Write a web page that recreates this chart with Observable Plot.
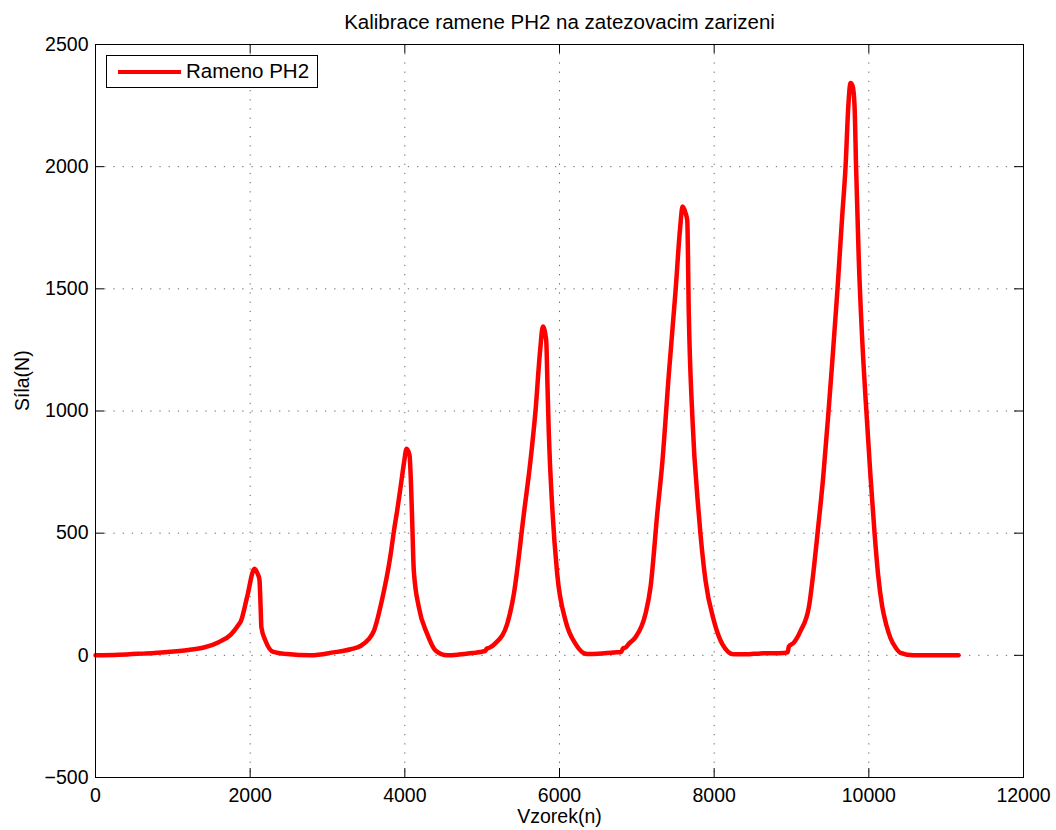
<!DOCTYPE html>
<html>
<head>
<meta charset="utf-8">
<script src="https://cdn.jsdelivr.net/npm/d3@7"></script>
<script src="https://cdn.jsdelivr.net/npm/@observablehq/plot@0.6"></script>
<style>
  html, body { margin: 0; padding: 0; background: #fff; }
  #wrap { position: relative; width: 1056px; height: 830px; font-family: "Liberation Sans", Arial, sans-serif; }
  #legend { position: absolute; left: 106px; top: 55px; width: 212px; height: 33px; border: 1px solid #000; background: #fff; box-sizing: border-box; }
  #legend .sw { position: absolute; left: 11px; top: 13.5px; width: 63px; height: 4.5px; background: #ff0000; }
  #legend .lb { position: absolute; left: 79px; top: 4px; font-size: 20.5px; line-height: 22px; color: #000; white-space: nowrap; }
</style>
</head>
<body>
<div id="wrap">
  <div id="chart"></div>
  <div id="legend"><div class="sw"></div><div class="lb" id="legendLabel"></div></div>
</div>
<script>
const titleText = "Kalibrace ramene PH2 na zatezovacim zarizeni";
const xLabel = "Vzorek(n)";
const yLabel = "Síla(N)";
const seriesName = "Rameno PH2";

const xTicks = [0, 2000, 4000, 6000, 8000, 10000, 12000];
const yTicks = [-500, 0, 500, 1000, 1500, 2000, 2500];

const sampleN = [
  0, 300, 600, 900, 1200, 1400, 1600, 1750, 1850, 1880, 1960, 2056, 2095, 2120, 2135, 2145, 2198, 2300, 2480, 2780,
  3078, 3300, 3427, 3530, 3600, 3700, 3815, 3860, 3900, 3950, 3990, 4022, 4060, 4080, 4095, 4116, 4181, 4289, 4397, 4548, 4700, 4888,
  4980, 5040, 5060, 5086, 5173, 5324, 5410, 5539, 5625, 5690, 5750, 5785, 5828, 5845, 5862, 5906, 5970, 6078, 6207, 6359,
  6500, 6703, 6800, 6820, 6854, 6896, 6983, 7112, 7177, 7264, 7328, 7414, 7501, 7560, 7591, 7630, 7652, 7672, 7716, 7801,
  7888, 7996, 8104, 8254, 8400, 8600, 8900, 8950, 8966, 9030, 9117, 9224, 9289, 9337, 9410, 9479, 9527, 9595, 9656, 9699, 9735,
  9763, 9790, 9815, 9835, 9870, 9910, 9960, 10020, 10074, 10120, 10173, 10230, 10281, 10350, 10410, 10578, 11160
];
const force = [
  0, 2, 7, 13, 22, 32, 55, 85, 125, 140, 238, 354, 335, 310, 200, 115, 60, 14, 5, 0,
  12, 25, 38, 65, 100, 220, 410, 511, 590, 700, 790, 845, 820, 700, 552, 347, 197, 88, 20, 0, 3, 10,
  14, 18, 28, 30, 50, 129, 252, 579, 797, 1002, 1250, 1346, 1289, 1100, 907, 606, 334, 142, 47, 5,
  6, 12, 14, 28, 32, 47, 74, 170, 279, 579, 784, 1152, 1493, 1750, 1837, 1810, 1780, 1398, 988, 579,
  306, 142, 47, 4, 4, 8, 10, 12, 36, 52, 100, 196, 356, 500, 730, 1000, 1200, 1500, 1800, 2000, 2250,
  2342, 2330, 2250, 2000, 1620, 1320, 1040, 740, 500, 330, 200, 120, 70, 30, 10, 0, 0
];

const data = sampleN.map((n, i) => ({n, f: force[i]}));
const fmt = d => d < 0 ? "\u2212" + Math.abs(d) : String(d);

const W = 1056, H = 830, mL = 95, mR = 33, mT = 44, mB = 53;
const fw = W - mL - mR, fh = H - mT - mB;
const tickLen = 9;
const fs = 19.5;

const chart = Plot.plot({
  width: W, height: H,
  marginLeft: mL, marginRight: mR, marginTop: mT, marginBottom: mB,
  x: {domain: [0, 12000]},
  y: {domain: [-500, 2500]},
  style: {fontFamily: "'Liberation Sans', Arial, sans-serif", fontSize: fs + "px", background: "#fff", color: "#000", overflow: "visible"},
  marks: [
    Plot.gridX(xTicks, {stroke: "#000", strokeOpacity: 0.6, strokeWidth: 1, strokeDasharray: "1.3,7.9"}),
    Plot.gridY(yTicks, {stroke: "#000", strokeOpacity: 0.6, strokeWidth: 1, strokeDasharray: "1.3,7.9"}),
    Plot.ruleX(xTicks, {x: d => d, insetTop: fh - tickLen, stroke: "#000"}),
    Plot.ruleX(xTicks, {x: d => d, insetBottom: fh - tickLen, stroke: "#000"}),
    Plot.ruleY(yTicks, {y: d => d, insetRight: fw - tickLen, stroke: "#000"}),
    Plot.ruleY(yTicks, {y: d => d, insetLeft: fw - tickLen, stroke: "#000"}),
    Plot.line(data, {x: "n", y: "f", stroke: "#ff0000", strokeWidth: 4.5, curve: "monotone-x", strokeLinejoin: "round", strokeLinecap: "round"}),
    Plot.frame({stroke: "#000", strokeWidth: 1}),
    Plot.axisX(xTicks, {anchor: "bottom", tickSize: 0, tickPadding: 11, tickFormat: fmt, label: null, fontSize: fs}),
    Plot.axisY(yTicks, {anchor: "left", tickSize: 0, tickPadding: 7, tickFormat: fmt, label: null, fontSize: fs}),
    Plot.text([titleText], {frameAnchor: "top", dy: -22, fontSize: 20.5, lineAnchor: "middle"}),
    Plot.text([xLabel], {frameAnchor: "bottom", dy: 39, fontSize: fs, lineAnchor: "middle"}),
    Plot.text([yLabel], {frameAnchor: "left", dx: -73, rotate: -90, fontSize: fs, lineAnchor: "middle"})
  ]
});
document.getElementById("chart").appendChild(chart);
document.getElementById("legendLabel").textContent = seriesName;
</script>
</body>
</html>
